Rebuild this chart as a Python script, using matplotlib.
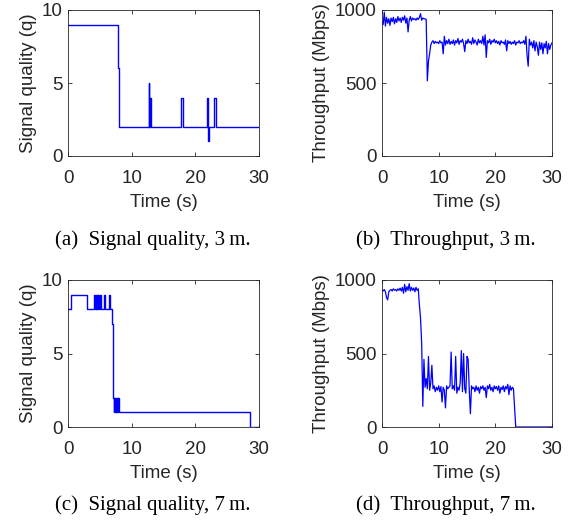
import numpy as np
import matplotlib
matplotlib.use("Agg")
import matplotlib.pyplot as plt

# ===================== DATOS =====================
# Calidad de señal (escalones), 3 m
t_q3 = [0, 7.85, 7.9, 8.0, 12.7, 12.8, 12.95, 13.05, 17.8, 18.0,
        21.8, 22.0, 22.05, 22.15, 22.9, 23.2, 30]
q_3m = [9, 7, 6, 2, 5, 2, 4, 2, 4, 2, 4, 2, 1, 2, 4, 2, 2]

# Calidad de señal (escalones), 7 m
t_q7 = [0, 0.5, 3.0, 4.1, 4.2, 4.35, 4.45, 4.55, 4.65, 4.75, 4.85,
        5.1, 5.2, 5.7, 5.8, 6.5, 6.6, 6.85, 7.05, 7.2, 7.3, 7.4, 7.5,
        7.55, 7.7, 7.8, 7.9, 8.0, 28.6, 30]
q_7m = [8, 9, 8, 9, 8, 9, 8, 9, 8, 9, 8,
        9, 8, 9, 8, 9, 8, 7, 2, 1, 2, 1, 2,
        1, 2, 1, 2, 1, 0, 0]

# Throughput (Mbps), muestras cada 0.2 s
t_thr = np.round(np.arange(0, 30.01, 0.2), 1)

thr_3m = [
    920, 900, 985, 890, 950, 910, 940, 895, 945, 920,
    950, 905, 940, 915, 955, 925, 945, 915, 950, 930,
    960, 910, 945, 850, 930, 955, 925, 945, 935, 940,
    930, 945, 935, 950, 975, 930, 945, 940, 940, 935,
    515, 650, 700, 760, 780, 790, 770, 785, 775, 780,
    770, 790, 775, 780, 700, 820, 760, 790, 770, 800,
    765, 785, 770, 795, 760, 790, 775, 805, 765, 790,
    780, 800, 770, 715, 790, 770, 800, 775, 785, 765,
    810, 770, 795, 780, 760, 800, 775, 790, 770, 820,
    760, 830, 675, 790, 775, 800, 765, 790, 780, 800,
    775, 790, 770, 785, 760, 790, 775, 780, 765, 795,
    720, 790, 770, 785, 765, 780, 770, 790, 760, 780,
    775, 790, 770, 780, 775, 790, 765, 820, 690, 615,
    800, 760, 780, 740, 790, 720, 780, 750, 690, 780,
    730, 775, 700, 770, 740, 785, 700, 770, 730, 760,
    775,
]

thr_7m = [
    930, 925, 935, 920, 880, 865, 920, 930, 935, 925,
    940, 930, 935, 925, 940, 930, 945, 925, 950, 910,
    970, 920, 955, 930, 975, 925, 950, 930, 945, 920,
    950, 930, 940, 830, 740, 570, 140, 460, 270, 330,
    260, 480, 250, 300, 420, 260, 280, 240, 270, 250,
    280, 240, 275, 170, 270, 250, 130, 280, 260, 270,
    280, 510, 260, 280, 250, 480, 230, 270, 250, 300,
    520, 240, 500, 260, 230, 480, 460, 250, 90, 280,
    260, 270, 240, 280, 250, 270, 230, 275, 260, 280,
    250, 270, 200, 280, 260, 290, 250, 270, 240, 280,
    260, 275, 250, 280, 230, 270, 255, 280, 240, 275,
    260, 290, 220, 280, 250, 270, 260, 130, 0, 0,
    0, 0, 0, 0, 0, 0, 0, 0, 0, 0,
    0, 0, 0, 0, 0, 0, 0, 0, 0, 0,
    0, 0, 0, 0, 0, 0, 0, 0, 0, 0,
    0,
]

captions = ["(a)  Signal quality, 3\u2009m.", "(b)  Throughput, 3\u2009m.",
            "(c)  Signal quality, 7\u2009m.", "(d)  Throughput, 7\u2009m."]

# ===================== FIGURA =====================
W, H = 574, 525
fig = plt.figure(figsize=(W / 100, H / 100), dpi=100)

gris = (0.15, 0.15, 0.15)
sans = ["Liberation Sans", "DejaVu Sans"]
serif = ["Liberation Serif", "DejaVu Serif"]
fs = 13.5


def caja(x0, x1, ytop, ybot):
    """Ejes en coordenadas de pixel (origen arriba a la izquierda)."""
    return fig.add_axes([x0 / W, 1 - ybot / H, (x1 - x0) / W, (ybot - ytop) / H])


def estilo(ax, ylim, yticks, ylabel):
    ax.set_xlim(0, 30)
    ax.set_ylim(*ylim)
    ax.set_xticks([0, 10, 20, 30])
    ax.set_yticks(yticks)
    ax.tick_params(direction="in", length=3, width=0.6, top=True, right=True,
                   colors=gris, labelsize=fs)
    ax.tick_params(axis="x", pad=10)
    ax.tick_params(axis="y", pad=4)
    for lab in ax.get_xticklabels() + ax.get_yticklabels():
        lab.set_family(sans)
    for s in ax.spines.values():
        s.set_color(gris)
        s.set_linewidth(0.6)
    ax.set_xlabel("Time (s)", fontsize=fs, family=sans, color=gris, labelpad=5)
    ax.set_ylabel(ylabel, fontsize=fs, family=sans, color=gris, labelpad=3)


ax_a = caja(68, 259, 10, 156)
ax_b = caja(382, 552, 10, 156)
ax_c = caja(68, 259, 280, 427)
ax_d = caja(382, 552, 280, 427)

ax_a.plot(t_q3, q_3m, color="blue", lw=1.0, drawstyle="steps-post")
ax_c.plot(t_q7, q_7m, color="blue", lw=1.0, drawstyle="steps-post")
ax_b.plot(t_thr, thr_3m, color="blue", lw=0.9)
ax_d.plot(t_thr, thr_7m, color="blue", lw=0.9)

estilo(ax_a, (0, 10), [0, 5, 10], "Signal quality (q)")
estilo(ax_c, (0, 10), [0, 5, 10], "Signal quality (q)")
estilo(ax_b, (0, 1000), [0, 500, 1000], "Throughput (Mbps)")
estilo(ax_d, (0, 1000), [0, 500, 1000], "Throughput (Mbps)")

# Subtítulos tipo LaTeX
for (cx, cy), txt in zip([(153, 240), (446, 240), (153, 505), (446, 505)], captions):
    fig.text(cx / W, 1 - cy / H, txt, ha="center", va="center",
             fontsize=15, family=serif, color="black")

fig.savefig("out.png", dpi=100)
